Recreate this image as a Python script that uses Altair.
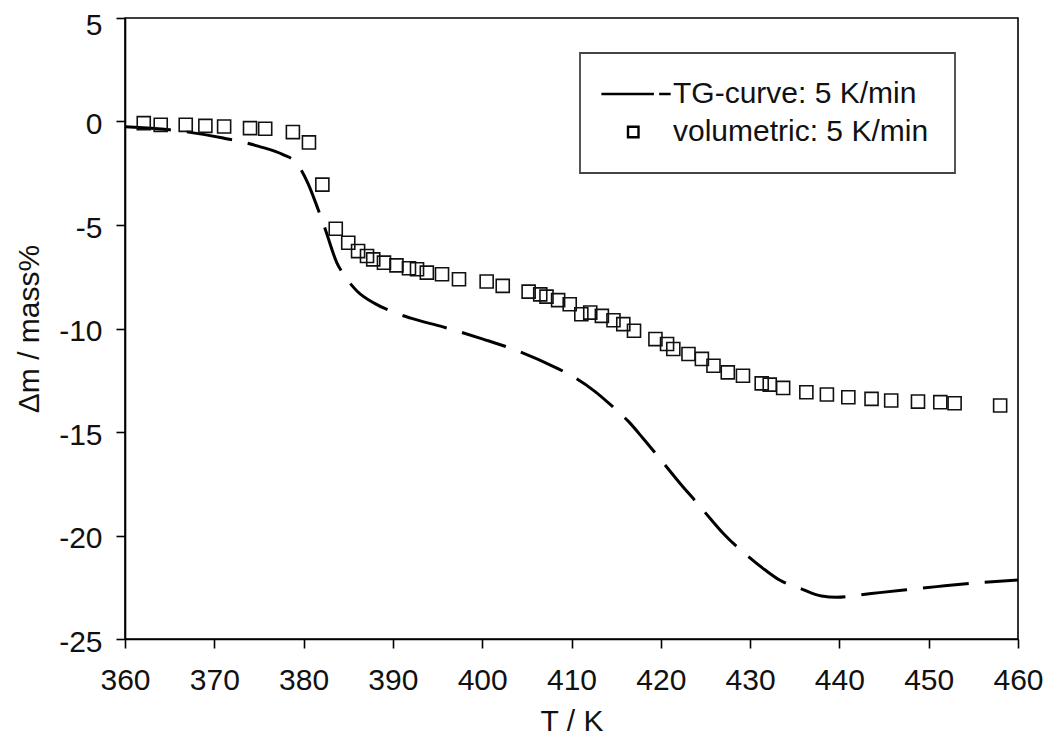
import altair as alt
import pandas as pd

# ---- data ----
TG_T = [360.0, 365.0, 371.0, 375.0, 377.7, 379.2, 380.5, 381.5, 382.5, 383.7,
        384.6, 386.0, 388.0, 390.0, 392.0, 395.6, 400.0, 403.5, 408.3, 410.0,
        412.5, 414.8, 416.4, 418.0, 420.3, 422.0, 424.0, 425.7, 427.0, 429.5,
        431.7, 433.3, 435.6, 438.0, 439.7, 442.3, 444.5, 447.5, 450.9, 455.0, 460.0]
TG_DM = [-0.25, -0.40, -0.80, -1.20, -1.60, -2.00, -3.00, -4.10, -5.30, -6.80,
         -7.46, -8.20, -8.80, -9.20, -9.50, -9.92, -10.50, -11.00, -11.90, -12.28,
         -13.00, -13.85, -14.50, -15.30, -16.50, -17.40, -18.40, -19.26, -19.90, -20.90,
         -21.67, -22.15, -22.55, -22.92, -22.98, -22.87, -22.76, -22.62, -22.47, -22.30, -22.15]

VOL_T = [362.1, 364.0, 366.8, 369.0, 371.1, 374.0, 375.7, 378.8, 380.6, 382.1,
         383.6, 385.0, 386.1, 387.1, 387.8, 389.0, 390.4, 391.8, 392.7, 393.8,
         395.5, 397.4, 400.5, 402.3, 405.2, 406.5, 407.2, 408.5, 409.8, 411.1,
         412.1, 413.4, 414.7, 415.8, 417.0, 419.4, 420.7, 421.4, 423.1, 424.6,
         425.9, 427.5, 429.2, 431.3, 432.2, 433.7, 436.3, 438.6, 441.0, 443.6,
         445.8, 448.8, 451.3, 452.9, 458.0]
VOL_DM = [-0.08, -0.16, -0.16, -0.21, -0.24, -0.32, -0.35, -0.51, -1.01, -3.05,
          -5.18, -5.86, -6.26, -6.50, -6.66, -6.82, -6.95, -7.09, -7.14, -7.30,
          -7.38, -7.62, -7.73, -7.94, -8.22, -8.35, -8.46, -8.63, -8.83, -9.31,
          -9.23, -9.39, -9.60, -9.79, -10.11, -10.51, -10.75, -10.99, -11.23, -11.47,
          -11.80, -12.12, -12.28, -12.65, -12.71, -12.87, -13.08, -13.19, -13.32, -13.40,
          -13.48, -13.53, -13.56, -13.61, -13.72]

SERIES = ["TG-curve: 5 K/min", "volumetric: 5 K/min"]
X_TICKS = list(range(360, 461, 10))
Y_TICKS = list(range(-25, 6, 5))

FONT = "Liberation Sans"

tg = pd.DataFrame({"T": TG_T, "dm": TG_DM})
vol = pd.DataFrame({"T": VOL_T, "dm": VOL_DM})
leg = pd.DataFrame({"series": SERIES})

xenc = alt.X("T:Q", title="T / K",
             scale=alt.Scale(domain=[360, 460], nice=False, zero=False),
             axis=alt.Axis(values=X_TICKS, labelPadding=17, titlePadding=11,
                           labelFlush=False, labelExpr="'' + datum.value"))
yenc = alt.Y("dm:Q", title="Δm / mass%",
             scale=alt.Scale(domain=[-25, 5], nice=False, zero=False),
             axis=alt.Axis(values=Y_TICKS, labelPadding=14, titlePadding=14,
                           labelFlush=False,
                           labelOffset={"condition": {"test": "datum.value == 5", "value": 7},
                                        "value": 3},
                           labelExpr="'' + datum.value"))

line = alt.Chart(tg).mark_line(
    color="black", strokeWidth=3, strokeDash=[46, 16], interpolate="monotone"
).encode(x=xenc, y=yenc)

pts = alt.Chart(vol).mark_point(
    shape="square", filled=False, color="#111111", size=170, strokeWidth=1.6, opacity=1
).encode(x="T:Q", y="dm:Q")

LINE_PATH = "M-5.6,0H9.4M10.9,0H14.2"
SQUARE_PATH = "M2,-1.5H5V1.5H2Z"

legend_layer = alt.Chart(leg).transform_filter("false").mark_point(
    filled=False, color="black"
).encode(
    shape=alt.Shape("series:N",
                    scale=alt.Scale(domain=SERIES, range=[LINE_PATH, SQUARE_PATH]),
                    legend=alt.Legend(title=None, orient="none", legendX=455, legendY=35,
                                      symbolSize=49, symbolStrokeWidth=2.4,
                                      symbolFillColor="transparent", symbolStrokeColor="black",
                                      symbolOpacity=1, labelOffset=37, labelLimit=500,
                                      labelFont=FONT, labelFontSize=30, labelColor="#111111",
                                      padding=26, rowPadding=8,
                                      strokeColor="#444444", fillColor="white"))
)

chart = alt.layer(line, pts, legend_layer).properties(
    width=893, height=621,
    autosize=alt.AutoSizeParams(type="none"),
    padding={"left": 117, "top": 10, "right": 25, "bottom": 96},
).configure_view(
    stroke="black", strokeWidth=1.6
).configure_axis(
    grid=False, domainColor="black", domainWidth=1.6, tickColor="black", tickWidth=1.6,
    tickSize=9, labelFont=FONT, labelFontSize=30, labelColor="#111111",
    titleFont=FONT, titleFontSize=30, titleFontWeight="normal", titleColor="#111111"
).configure_legend(strokeWidth=1.8)

chart.save("out.html", embed_options={"renderer": "svg", "actions": False})
